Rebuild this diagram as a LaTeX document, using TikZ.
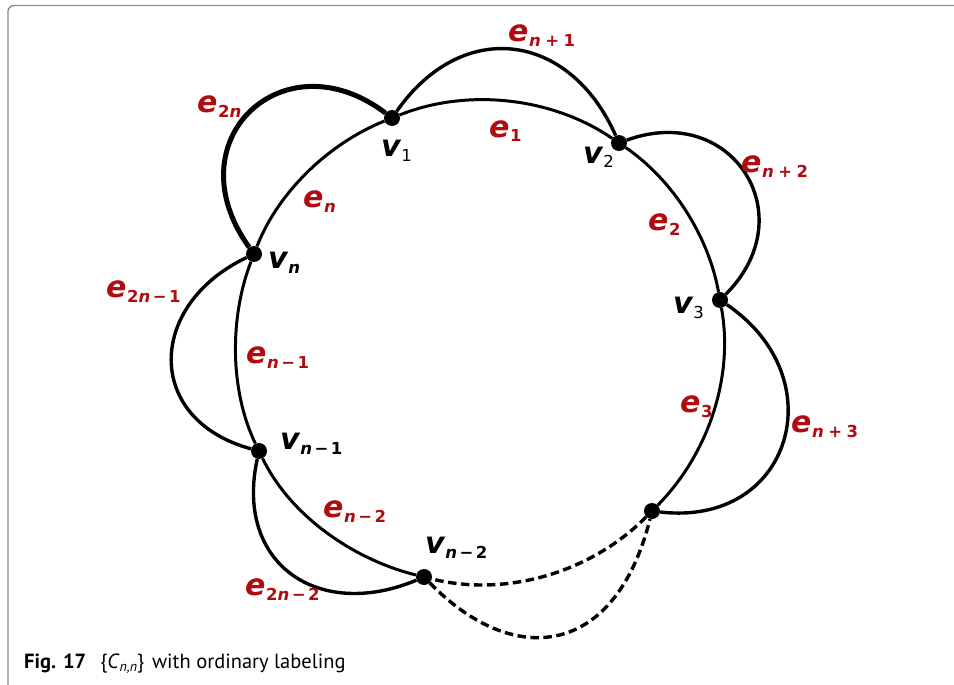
\documentclass[tikz,border=0pt]{standalone}
\usepackage{fontspec}
\newfontfamily\lfont{DejaVu Sans}
\newfontfamily\capfont{PT Sans}
\definecolor{ered}{RGB}{176,12,16}
\definecolor{framec}{RGB}{140,140,140}
\newcommand{\Lbl}[2]{{\lfont\bfseries\itshape\fontsize{30}{30}\selectfont #1}\kern0.5pt\raisebox{-5pt}{\lfont\bfseries\fontsize{16.5}{16.5}\selectfont #2}}
\newcommand{\nn}{\textit{n}}
\newcommand{\pl}{\hspace{4.5pt}+\hspace{4.5pt}}
\newcommand{\mi}{\hspace{2.5pt}−\hspace{2.5pt}}
\tikzset{
  dot/.style={circle,fill=black,inner sep=0pt,minimum size=16pt},
  edge/.style={line width=3pt,black},
  outedge/.style={line width=3.4pt,black},
  dashedge/.style={line width=3.4pt,black,dash pattern=on 8.5pt off 4.5pt},
  elab/.style={anchor=base west,inner sep=0pt,text=ered},
  vlab/.style={anchor=base west,inner sep=0pt,text=black},
}
\begin{document}
\begin{tikzpicture}[x=1pt,y=-1pt]
\useasboundingbox (0,0) rectangle (954,685);
% frame
\draw[framec,line width=1.4pt,rounded corners=6pt] (8,686) -- (8,5.5) -- (955,5.5);
% vertices
\node[dot] (v1) at (392,118) {};
\node[dot] (v2) at (619,143) {};
\node[dot] (v3) at (720,300) {};
\node[dot] (u) at (652,511) {};
\node[dot] (vn2) at (424,577) {};
\node[dot] (vn1) at (259,451) {};
\node[dot] (vn) at (254,254) {};
% inner cycle edges
\draw[edge] (vn) .. controls (278.4,191.4) and (329.6,143.0) .. (v1);
\draw[edge] (v1) .. controls (467.3,87.9) and (552.1,97.2) .. (v2);
\draw[edge] (v2) .. controls (672.6,179.7) and (708.4,236.0) .. (v3);
\draw[edge] (v3) .. controls (734.1,377.8) and (707.6,454.7) .. (u);
\draw[dashedge] (u) .. controls (591.8,571.9) and (507.1,597.6) .. (vn2);
\draw[edge] (vn2) .. controls (353.8,559.6) and (290.5,516.1) .. (vn1);
\draw[edge] (vn1) .. controls (229.6,390.3) and (229.5,316.9) .. (vn);
% outer edges
\draw[line width=5pt] (vn) .. controls (172,140) and (284,36) .. (v1);
\draw[outedge] (v1) .. controls (462.2,17.8) and (569.2,31.2) .. (v2);
\draw[outedge] (v2) .. controls (731.7,101.7) and (804.8,215.2) .. (v3);
\draw[outedge] (v3) .. controls (835.8,378.7) and (791,527.4) .. (u);
\draw[dashedge] (vn2) .. controls (514.9,670) and (615.6,656.5) .. (u);
\draw[outedge] (vn1) .. controls (234.4,563.4) and (317.9,621.3) .. (vn2);
\draw[outedge] (vn) .. controls (146.4,305.2) and (144.2,419.7) .. (vn1);
% edge labels
\node[elab] (le1) at (489,137) {\Lbl{e}{1}};
\node[elab] (le2) at (648,230) {\Lbl{e}{2}};
\node[elab] (le3) at (680,412) {\Lbl{e}{3}};
\node[elab] (len) at (303,207) {\Lbl{e}{\nn}};
\node[elab] (len1) at (246,363) {\Lbl{e}{\nn\mi 1}};
\node[elab] (len2) at (323,517) {\Lbl{e}{\nn\mi 2}};
\node[elab] (lenp1) at (508,42) {\Lbl{e}{\nn\pl 1}};
\node[elab] (lenp2) at (741,172) {\Lbl{e}{\nn\pl 2}};
\node[elab] (lenp3) at (791,432) {\Lbl{e}{\nn\pl 3}};
\node[elab] (le2n) at (197,113) {\Lbl{e}{2\nn}};
\node[elab] (le2n1) at (106,297) {\Lbl{e}{2\nn\mi 1}};
\node[elab] (le2n2) at (245,595) {\Lbl{e}{2\nn\mi 2}};
% vertex labels
\node[vlab] (lv1) at (381,157) {\Lbl{v}{\mdseries 1}};
\node[vlab] (lv2) at (583,163) {\Lbl{v}{\mdseries 2}};
\node[vlab] (lv3) at (673,313) {\Lbl{v}{\mdseries 3}};
\node[vlab] (lvn) at (268,268) {\Lbl{v}{\nn}};
\node[vlab] (lvn1) at (280,449) {\Lbl{v}{\nn\mi 1}};
\node[vlab] (lvn2) at (425,553) {\Lbl{v}{\nn\mi 2}};
% caption
\node[anchor=base west,inner sep=0pt] (cap) at (24,668) {\capfont\fontsize{20.5}{20.5}\selectfont\textbf{Fig. 17}\hspace{14pt}\{\textit{C}\raisebox{-3.5pt}{\fontsize{14}{14}\selectfont\textit{n,n}}\}\hspace{8pt}with ordinary labeling};
\end{tikzpicture}
\end{document}
